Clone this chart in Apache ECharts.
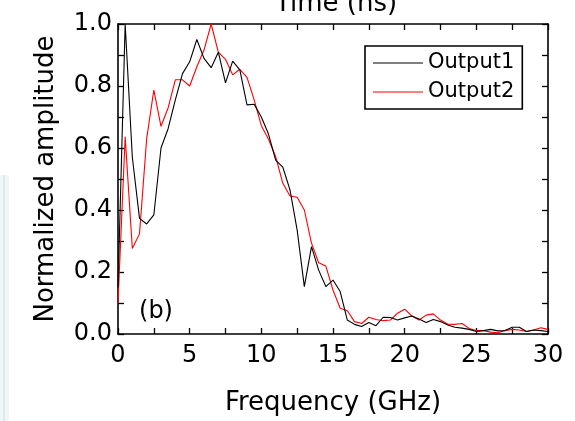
<!DOCTYPE html>
<html>
<head>
<meta charset="utf-8">
<script src="https://cdn.jsdelivr.net/npm/echarts@6/dist/echarts.min.js"></script>
<style>
html,body{margin:0;padding:0;background:#fff;}
#main{width:575px;height:421px;}
</style>
</head>
<body>
<div id="main"></div>
<script>
// Frequency samples (GHz)
const freq = [0,0.5,1,1.5,2,2.5,3,3.5,4,4.5,5,5.5,6,6.5,7,7.5,8,8.5,9,9.5,10,10.5,11,11.5,12,12.5,13,13.5,14,14.5,15,15.5,16,16.5,17,17.5,18,18.5,19,19.5,20,20.5,21,21.5,22,22.5,23,23.5,24,24.5,25,25.5,26,26.5,27,27.5,28,28.5,29,29.5,30];
const output1 = [0.15,1.0,0.57,0.373,0.355,0.384,0.60,0.663,0.755,0.84,0.878,0.95,0.889,0.859,0.909,0.81,0.88,0.852,0.739,0.741,0.70,0.645,0.561,0.538,0.465,0.335,0.153,0.282,0.206,0.153,0.174,0.137,0.045,0.031,0.024,0.037,0.027,0.054,0.053,0.045,0.052,0.058,0.048,0.037,0.047,0.04,0.029,0.022,0.019,0.015,0.008,0.011,0.015,0.01,0.011,0.022,0.022,0.008,0.013,0.011,0.008];
const output2 = [0.1,0.636,0.276,0.323,0.63,0.787,0.67,0.73,0.82,0.82,0.80,0.862,0.916,1.0,0.909,0.886,0.836,0.854,0.828,0.755,0.672,0.628,0.572,0.486,0.445,0.441,0.40,0.293,0.23,0.219,0.142,0.083,0.075,0.04,0.034,0.054,0.047,0.043,0.045,0.067,0.08,0.058,0.045,0.061,0.065,0.045,0.032,0.031,0.034,0.018,0.011,0.011,0.006,0.004,0.011,0.015,0.013,0.008,0.013,0.02,0.015];
const seriesNames = ['Output1','Output2'];
const xLabelTicks = [0,5,10,15,20,25,30];
const yLabelTicks = ['0.0','0.2','0.4','0.6','0.8','1.0'];

const FONT = 'DejaVu Sans';
const chart = echarts.init(document.getElementById('main'), null, {renderer:'canvas'});
const axisLineStyle = {color:'#000', width:1.6};
const tickStyle = {show:true, inside:true, length:6, lineStyle:{color:'#000', width:1.3}};

chart.setOption({
  animation:false,
  backgroundColor:'#fff',
  grid:{left:118, top:24, width:430, height:310, containLabel:false},
  legend:{
    orient:'vertical', left:365, top:46,
    data:seriesNames,
    icon:'rect',
    borderColor:'#000', borderWidth:1.6,
    padding:[6,8,6,8], itemGap:7,
    itemWidth:50, itemHeight:1.2,
    textStyle:{fontFamily:FONT, fontSize:21, color:'#000', lineHeight:22}
  },
  xAxis:[{
    type:'value', min:0, max:30, interval:2.5,
    name:'Frequency (GHz)', nameLocation:'middle', nameGap:56,
    nameTextStyle:{fontFamily:FONT, fontSize:26, color:'#000'},
    axisLine:{show:true, lineStyle:axisLineStyle},
    axisTick:tickStyle,
    axisLabel:{margin:10, fontFamily:FONT, fontSize:24, color:'#000',
      formatter:v => xLabelTicks.indexOf(v) >= 0 ? String(v) : ''},
    splitLine:{show:false}
  },{
    type:'value', min:0, max:30, interval:2.5, position:'top',
    axisLine:{show:true, onZero:false, lineStyle:axisLineStyle},
    axisTick:tickStyle, axisLabel:{show:false}, splitLine:{show:false}
  }],
  yAxis:[{
    type:'value', min:0, max:1, interval:0.1,
    name:'Normalized amplitude', nameLocation:'middle', nameGap:59,
    nameTextStyle:{fontFamily:FONT, fontSize:26, color:'#000'},
    axisLine:{show:true, lineStyle:axisLineStyle},
    axisTick:tickStyle,
    axisLabel:{margin:6, fontFamily:FONT, fontSize:24, color:'#000',
      formatter:v => { const s = v.toFixed(1); return yLabelTicks.indexOf(s) >= 0 ? s : ''; }},
    splitLine:{show:false}
  },{
    type:'value', min:0, max:1, interval:0.1, position:'right',
    axisLine:{show:true, onZero:false, lineStyle:axisLineStyle},
    axisTick:tickStyle, axisLabel:{show:false}, splitLine:{show:false}
  }],
  graphic:[
    {type:'rect', shape:{x:0, y:175, width:9, height:246}, style:{fill:'#eef6f6'}, z:-1},
    {type:'rect', shape:{x:3, y:175, width:2, height:246}, style:{fill:'#dbeaea'}, z:-1},
    {type:'text', x:336, y:17, style:{text:'Time (ns)', font:'26px "DejaVu Sans"', fill:'#000', align:'center', verticalAlign:'bottom'}},
    {type:'text', x:156, y:312, style:{text:'(b)', font:'24px "DejaVu Sans"', fill:'#000', align:'center', verticalAlign:'middle'}}
  ],
  series:[
    {name:seriesNames[0], type:'line', data:freq.map((f,i)=>[f,output1[i]]),
     symbol:'none', lineStyle:{color:'#000', width:1.1}, itemStyle:{color:'#000'}, z:3},
    {name:seriesNames[1], type:'line', data:freq.map((f,i)=>[f,output2[i]]),
     symbol:'none', lineStyle:{color:'#ff0000', width:1.1}, itemStyle:{color:'#ff0000'}, z:2}
  ]
});
</script>
</body>
</html>
